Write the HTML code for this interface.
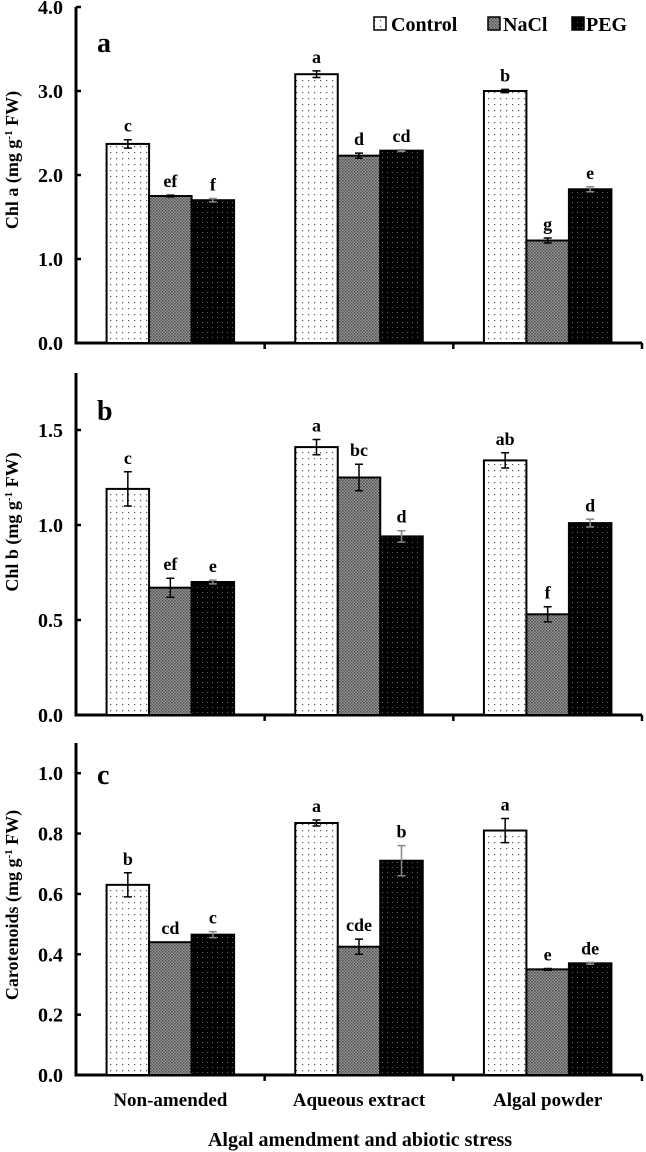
<!DOCTYPE html>
<html><head><meta charset="utf-8">
<style>
html,body{margin:0;padding:0;background:#fff;}
svg{display:block;font-family:"Liberation Serif",serif;font-weight:bold;}
</style></head>
<body>
<svg id="chart" width="646" height="1152" viewBox="0 0 646 1152" xmlns="http://www.w3.org/2000/svg">
<defs>
<pattern id="pCtrl" width="6" height="6" patternUnits="userSpaceOnUse"><rect width="6" height="6" fill="#fff"/><rect x="2" y="2" width="1.2" height="1.2" fill="#555"/></pattern>
<pattern id="pNaCl" width="3" height="3" patternUnits="userSpaceOnUse"><rect width="3" height="3" fill="#9a9a9a"/><rect x="0" y="0" width="1.5" height="1.5" fill="#4a4a4a"/><rect x="1.5" y="1.5" width="1.5" height="1.5" fill="#5a5a5a"/></pattern>
<pattern id="pPEG" width="5" height="5" patternUnits="userSpaceOnUse"><rect width="5" height="5" fill="#000"/><rect x="2" y="2" width="1" height="1" fill="#666"/></pattern>
</defs>
<g id="plots"></g>
<g>
<rect x="374" y="17" width="12" height="13" fill="url(#pCtrl)" stroke="#000" stroke-width="1.5"/>
<text x="391" y="31" font-size="20">Control</text>
<rect x="488" y="17" width="12" height="13" fill="url(#pNaCl)" stroke="#000" stroke-width="1.5"/>
<text x="503" y="31" font-size="20">NaCl</text>
<rect x="572" y="17" width="12" height="13" fill="url(#pPEG)" stroke="#000" stroke-width="1.5"/>
<text x="586" y="31" font-size="20">PEG</text>
</g>
<text x="360" y="1146" font-size="20" text-anchor="middle">Algal amendment and abiotic stress</text>
</svg>
<script>
const categories = ["Non-amended","Aqueous extract","Algal powder"];
const series = ["Control","NaCl","PEG"];
const chlA = [[2.37,1.75,1.70],[3.20,2.23,2.29],[3.00,1.22,1.83]];
const chlAErr = [[0.05,0.01,0.02],[0.04,0.03,0.01],[0.02,0.03,0.03]];
const chlALetters = [["c","ef","f"],["a","d","cd"],["b","g","e"]];
const chlB = [[1.19,0.67,0.70],[1.41,1.25,0.94],[1.34,0.53,1.01]];
const chlBErr = [[0.09,0.05,0.01],[0.04,0.07,0.03],[0.04,0.04,0.02]];
const chlBLetters = [["c","ef","e"],["a","bc","d"],["ab","f","d"]];
const car = [[0.63,0.44,0.465],[0.835,0.425,0.71],[0.81,0.35,0.37]];
const carErr = [[0.04,0.0,0.01],[0.01,0.025,0.05],[0.04,0.003,0.003]];
const carLetters = [["b","cd","c"],["a","cde","b"],["a","e","de"]];
const ticksA = ["0.0","1.0","2.0","3.0","4.0"];
const ticksB = ["0.0","0.5","1.0","1.5"];
const ticksC = ["0.0","0.2","0.4","0.6","0.8","1.0"];

const NS="http://www.w3.org/2000/svg";
const root=document.getElementById('plots');
const fills=["url(#pCtrl)","url(#pNaCl)","url(#pPEG)"];
function mk(tag,attrs,parent){const e=document.createElementNS(NS,tag);for(const k in attrs)e.setAttribute(k,attrs[k]);(parent||root).appendChild(e);return e;}

function panel(cfg){
  const g=mk('g',{});
  
  
  const x0=76,x1=642,y0=cfg.y0,yTop=cfg.yTop,max=cfg.max;
  const ys=v=>y0-(v/max)*(y0-yTop);
  const gw=(x1-x0)/categories.length, bw=42.5, off=(gw-3*bw)/2;
  const axis=mk('path',{d:`M${x0} ${yTop}V${y0}H${x1}`,stroke:'#000','stroke-width':3,fill:'none'},g);
  
  
  for(let i=1;i<=categories.length;i++){mk('line',{x1:x0+gw*i,x2:x0+gw*i,y1:y0,y2:y0+6,stroke:'#000','stroke-width':2.5},g);}
  cfg.ticks.forEach(t=>{
    const y=ys(parseFloat(t));
    mk('line',{x1:x0,x2:x0+5,y1:y,y2:y,stroke:'#000','stroke-width':2.5},g);
    const tx=mk('text',{x:x0-13,y:y+7,'font-size':20,'text-anchor':'end'},g);
    tx.textContent=t;
    
    
  });
  const yl=mk('text',{x:0,y:0,'font-size':18,'text-anchor':'middle',transform:`translate(18 ${cfg.ylabelY}) rotate(-90)`},g);
  yl.innerHTML=cfg.ylabel;
  
  
  const pl=mk('text',{x:97,y:cfg.labelY,'font-size':28},g);
  pl.textContent=cfg.panelLabel;
  
  
  categories.forEach((c,ci)=>{
    series.forEach((s,si)=>{
      const v=cfg.vals[ci][si], e=cfg.err[ci][si];
      const bx=x0+gw*ci+off+bw*si, by=ys(v);
      const r=mk('rect',{x:bx,y:by,width:bw,height:y0-by,fill:fills[si],stroke:'#000','stroke-width':2},g);
      
      
      const cx=bx+bw/2, et=ys(v+e), eb=ys(v-e);
      const col=si==2?'#888':'#000';
      mk('path',{d:`M${cx} ${et}V${eb}M${cx-4} ${et}H${cx+4}M${cx-4} ${eb}H${cx+4}`,stroke:col,'stroke-width':1.5,fill:'none'},g);
      const lt=mk('text',{x:cx,y:et-8,'font-size':18,'text-anchor':'middle'},g);
      lt.textContent=cfg.letters[ci][si];
      
      
    });
    if(cfg.xlabels){
      const xt=mk('text',{x:x0+gw*ci+gw/2,y:1106,'font-size':19,'text-anchor':'middle'},g);
      xt.textContent=c;
      
      
    }
  });
}
const lab=n=>`${n} (mg g<tspan dy="-6" font-size="11">-1</tspan><tspan dy="6"> FW)</tspan>`;
panel({name:'panel-chl-a',y0:343,yTop:7,max:4,ticks:ticksA,vals:chlA,err:chlAErr,letters:chlALetters,ylabel:lab('Chl a'),ylabelY:160,panelLabel:'a',labelY:52});
panel({name:'panel-chl-b',y0:715,yTop:373,max:1.8,ticks:ticksB,vals:chlB,err:chlBErr,letters:chlBLetters,ylabel:lab('Chl b'),ylabelY:522,panelLabel:'b',labelY:420});
panel({name:'panel-carotenoids',y0:1075,yTop:743,max:1.1,ticks:ticksC,vals:car,err:carErr,letters:carLetters,ylabel:lab('Carotenoids'),ylabelY:905,panelLabel:'c',labelY:784,xlabels:true});
</script>
</body></html>
